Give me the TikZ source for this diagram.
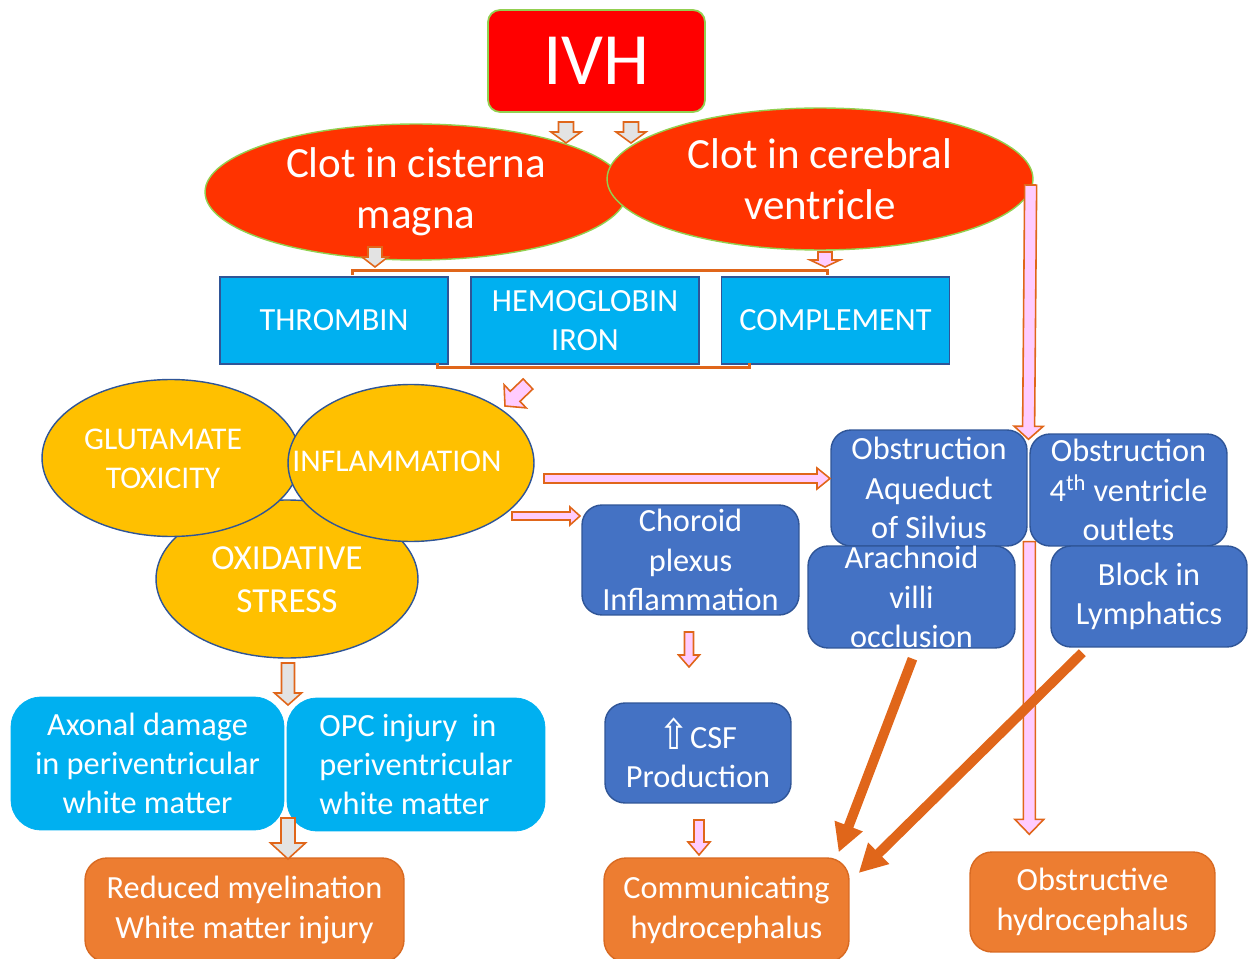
\documentclass[tikz,border=0pt]{standalone}
\usepackage{fontspec}
\setmainfont{Carlito}
\newfontfamily\arrowfont{DejaVu Sans}
\usetikzlibrary{shapes.geometric,calc,arrows.meta}

\definecolor{ivhred}{HTML}{FF0000}
\definecolor{clotred}{HTML}{FF3300}
\definecolor{limeedge}{HTML}{92D050}
\definecolor{cyanfill}{HTML}{00B0F0}
\definecolor{navyedge}{HTML}{2F5597}
\definecolor{amber}{HTML}{FFC000}
\definecolor{steel}{HTML}{4472C4}
\definecolor{tangerine}{HTML}{ED7D31}
\definecolor{rustedge}{HTML}{D86A22}
\definecolor{arrowrust}{HTML}{E0661A}
\definecolor{rosefill}{HTML}{FFCCFF}
\definecolor{greyfill}{HTML}{E3E3E3}

% block arrow: fill, tail, tip, shaft half width, head half width, head length (px)
\newcommand{\blockarrow}[6]{%
  \coordinate (ba-s) at #2;
  \coordinate (ba-t) at #3;
  \coordinate (ba-h) at ($(ba-t)!#6*0.02cm!(ba-s)$);
  \draw[blockline, fill=#1] ($(ba-s)!#4*0.02cm!90:(ba-t)$) -- ($(ba-h)!#4*0.02cm!90:(ba-t)$)
    -- ($(ba-h)!#5*0.02cm!90:(ba-t)$) -- (ba-t) -- ($(ba-h)!#5*0.02cm!-90:(ba-t)$)
    -- ($(ba-h)!#4*0.02cm!-90:(ba-t)$) -- ($(ba-s)!#4*0.02cm!-90:(ba-t)$) -- cycle;
}

\begin{document}
\begin{tikzpicture}[x=0.02cm,y=-0.02cm]
	\tikzstyle{ivhbox} = [rectangle, draw=limeedge, line width=1pt, fill=ivhred, rounded corners=0.24cm, minimum width=4.34cm, minimum height=2.04cm, text=white, font=\fontsize{42}{50}\selectfont];
	\tikzstyle{clot} = [ellipse, draw=limeedge, line width=0.8pt, fill=clotred, inner sep=0pt, align=center, text=white, font=\fontsize{24.5}{28.9}\selectfont];
	\tikzstyle{agent} = [rectangle, draw=navyedge, line width=1pt, fill=cyanfill, minimum width=4.56cm, minimum height=1.74cm, align=center, text=white, font=\fontsize{18.4}{22.4}\selectfont];
	\tikzstyle{insult} = [ellipse, draw=navyedge, line width=0.8pt, fill=amber, inner sep=0pt];
	\tikzstyle{insulttxt} = [align=center, text=white, inner sep=0pt, font=\fontsize{18}{22.4}\selectfont];
	\tikzstyle{mech} = [rectangle, rounded corners=0.4cm, draw=navyedge, line width=0.8pt, fill=steel, inner sep=0pt, align=center, text=white, font=\fontsize{18.4}{22.4}\selectfont];
	\tikzstyle{injury} = [rectangle, rounded corners=0.6cm, draw=cyanfill, fill=cyanfill, inner sep=0pt, minimum height=2.66cm, text=white, font=\fontsize{18.4}{22.4}\selectfont];
	\tikzstyle{outcome} = [rectangle, rounded corners=0.44cm, draw=rustedge, line width=0.8pt, fill=tangerine, inner sep=0pt, minimum width=4.9cm, align=center, text=white, font=\fontsize{18.4}{22.4}\selectfont];
	\tikzstyle{blockline} = [draw=arrowrust, line width=0.9pt, line join=miter];
	\tikzstyle{bracket} = [draw=arrowrust, line width=1.6pt];
	\tikzstyle{bigarrow} = [draw=arrowrust, line width=5.6pt, -{Triangle[length=16pt,width=16pt]}];
	
	\useasboundingbox (0,0) rectangle (1254,959);
	
	% top
	\node[ivhbox] (ivh) at (596.5,61) {IVH};
	\node[clot, minimum width=8.44cm, minimum height=2.72cm] (clotc) at (416,192) {Clot in cisterna\\magna};
	\node[clot, minimum width=8.52cm, minimum height=2.84cm] (clotv) at (820,179) {Clot in cerebral\\ventricle};
	
	% blood products
	\node[agent] (thromb) at (334,320.5) {THROMBIN};
	\node[agent] (hemo) at (585,320.5) {HEMOGLOBIN\\IRON};
	\node[agent] (compl) at (835.5,320.5) {COMPLEMENT};
	\draw[bracket] (thromb.north west) ++(133,-1) -- ++(0,-5) -| ($(compl.north east)+(-123,-1)$);
	\draw[bracket] (thromb.south east) ++(-11,-2) -- ++(0,5) -| ($(compl.south west)+(29,-2)$);
	
	% injury mechanisms
	\node[insult, minimum width=5.24cm, minimum height=3.16cm] (oxid) at (287,579) {};
	\node[insult, minimum width=5.16cm, minimum height=3.14cm] (glut) at (171,458) {};
	\node[insult, minimum width=4.92cm, minimum height=3.14cm] (infl) at (411,463) {};
	\node[insulttxt] (gluttxt) at (163,459) {GLUTAMATE\\TOXICITY};
	\node[insulttxt] (infltxt) at (397,461) {INFLAMMATION};
	\node[insulttxt, font=\fontsize{20}{24.4}\selectfont] (oxidtxt) at (287,580) {OXIDATIVE\\STRESS};
	
	% CSF pathway
	\node[mech, minimum width=4.34cm, minimum height=2.2cm] (choroid) at (690.5,560) {Choroid\\plexus\\Inflammation};
	\node[mech, minimum width=3.92cm, minimum height=2.32cm] (obsaq) at (929,488) {Obstruction\\Aqueduct\\of Silvius};
	\node[mech, minimum width=3.94cm, minimum height=2.24cm] (obsfour) at (1128.5,490) {Obstruction\\4\textsuperscript{th} ventricle\\outlets};
	\node[mech, minimum width=4.14cm, minimum height=2.04cm] (arach) at (911.5,597) {Arachnoid\\villi\\occlusion};
	\node[mech, minimum width=3.92cm, minimum height=2.02cm] (lymph) at (1149,596.5) {Block in\\Lymphatics};
	\node[mech, minimum width=3.72cm, minimum height=2cm] (csf) at (698,753) {\raisebox{-0.5pt}{\scalebox{1.15}[1.3]{\arrowfont ⇧}}CSF\\Production};
	
	% white matter
	\node[injury, minimum width=5.46cm, align=center] (axon) at (147.5,763.5) {Axonal damage\\in periventricular\\white matter};
	\node[injury, minimum width=5.16cm, align=left] (opc) at (416,764.5) {OPC injury~ in\\periventricular\\white matter};
	
	% outcomes
	\node[outcome, minimum height=2.08cm] (comm) at (726.5,910) {Communicating\\hydrocephalus};
	\node[outcome, minimum height=2cm] (obstr) at (1092.5,902) {Obstructive\\hydrocephalus};
	\node[outcome, minimum width=6.38cm, minimum height=2.08cm] (myel) at (244.5,910) {Reduced myelination\\White matter injury};
	
	% block arrows
	\blockarrow{greyfill}{(566,122)}{(566,143)}{7.5}{15}{11}
	\blockarrow{greyfill}{(631,122)}{(631,143)}{7.5}{15}{11}
	\blockarrow{greyfill}{(375,247)}{(375,267)}{7}{13}{10}
	\blockarrow{rosefill}{(825,252)}{(825,267)}{7}{15}{7}
	\blockarrow{rosefill}{(528,384)}{(505,406)}{7}{16}{14}
	\blockarrow{rosefill}{(544,478.5)}{(830,478.5)}{4.5}{10.5}{13}
	\blockarrow{rosefill}{(512,516)}{(580,516)}{4}{9}{10}
	\blockarrow{rosefill}{($(clotv.east)+(-3,6)$)}{($(obsaq.north east)!0.5!(obsfour.north west)+(0,8)$)}{6}{14.5}{13}
	\blockarrow{rosefill}{($(obsfour.south west)+(0,-5)$)}{($(obstr.north west)+(60,-17)$)}{6}{14.5}{15}
	\blockarrow{rosefill}{(689,632)}{(689,667)}{4.5}{10.5}{12}
	\blockarrow{rosefill}{(699,820)}{(699,855)}{5}{11}{13}
	\blockarrow{greyfill}{(288,663)}{(288,705)}{6.5}{13.5}{12}
	\blockarrow{greyfill}{(288,818)}{(288,859)}{7}{17.5}{16}
	
	% thick arrows
	\draw[bigarrow] ($(arach.south)+(1,10)$) -- ($(comm.north east)+(-11,-5)$);
	\draw[bigarrow] ($(lymph.south west)+(32,5)$) -- ($(comm.east)+(9,-37)$);
	
\end{tikzpicture}
\end{document}
